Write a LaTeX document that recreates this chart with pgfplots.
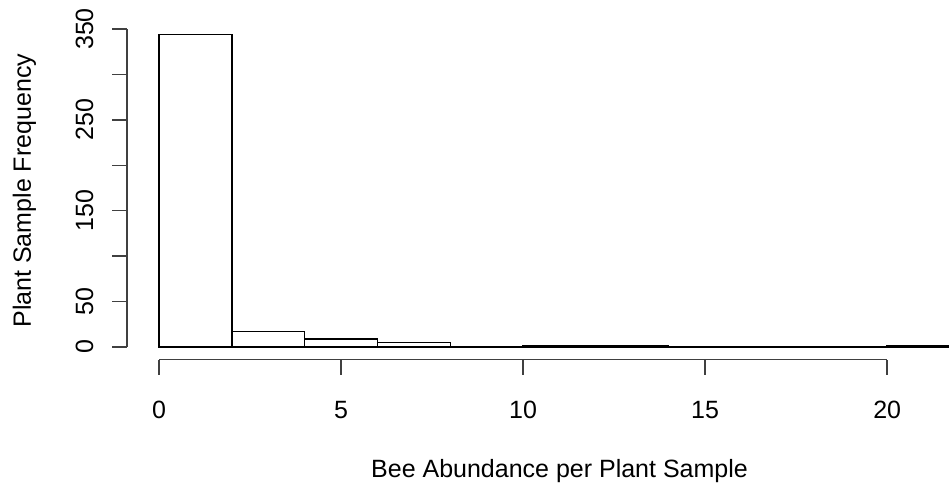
\documentclass[border=0pt]{standalone}
\usepackage{fontspec}
\setmainfont{Liberation Sans}
\usepackage{pgfplots}
\pgfplotsset{compat=1.18}
\begin{document}
\begin{tikzpicture}[font=\fontsize{25}{30}\selectfont]
\clip (0,0) rectangle (949pt,487pt);
\begin{axis}[
  at={(127pt,127.5pt)}, anchor=south west,
  scale only axis, width=865pt, height=337.5pt,
  xmin=-0.88, xmax=22.88, ymin=-13.76, ymax=357.76,
  axis line style={draw=none},
  clip=false,
  tick align=outside,
  major tick length=15pt,
  tick style={line width=1.4pt, black!75},
  xtick={0,5,10,15,20}, xticklabels={0,5,10,15,20},
  ytick={0,50,100,150,200,250,300,350}, yticklabels={0,50,,150,,250,,350},
  xtick pos=bottom, ytick pos=left,
  /pgf/number format/assume math mode=true,
  xticklabel style={anchor=base}, xticklabel shift=43.5pt,
  yticklabel style={rotate=90, anchor=base}, yticklabel shift=19pt,
  xlabel={Bee Abundance per Plant Sample},
  ylabel={Plant Sample Frequency},
  xlabel style={at={(axis description cs:0.5,-0.351)}, anchor=base},
  ylabel style={at={(axis description cs:-0.111,0.5)}, anchor=base},
]
\addplot[ybar interval, fill=white, draw=black, line width=1.4pt] coordinates {(0,344) (2,17) (4,9) (6,5) (8,0) (10,1) (12,1) (14,0) (16,0) (18,0) (20,1) (22,1)};
\draw[line width=1.4pt, black!75] (axis cs:0,-13.76) -- (axis cs:20,-13.76);
\draw[line width=1.4pt, black!75] (axis cs:-0.88,0) -- (axis cs:-0.88,350);
\end{axis}
\end{tikzpicture}
\end{document}
